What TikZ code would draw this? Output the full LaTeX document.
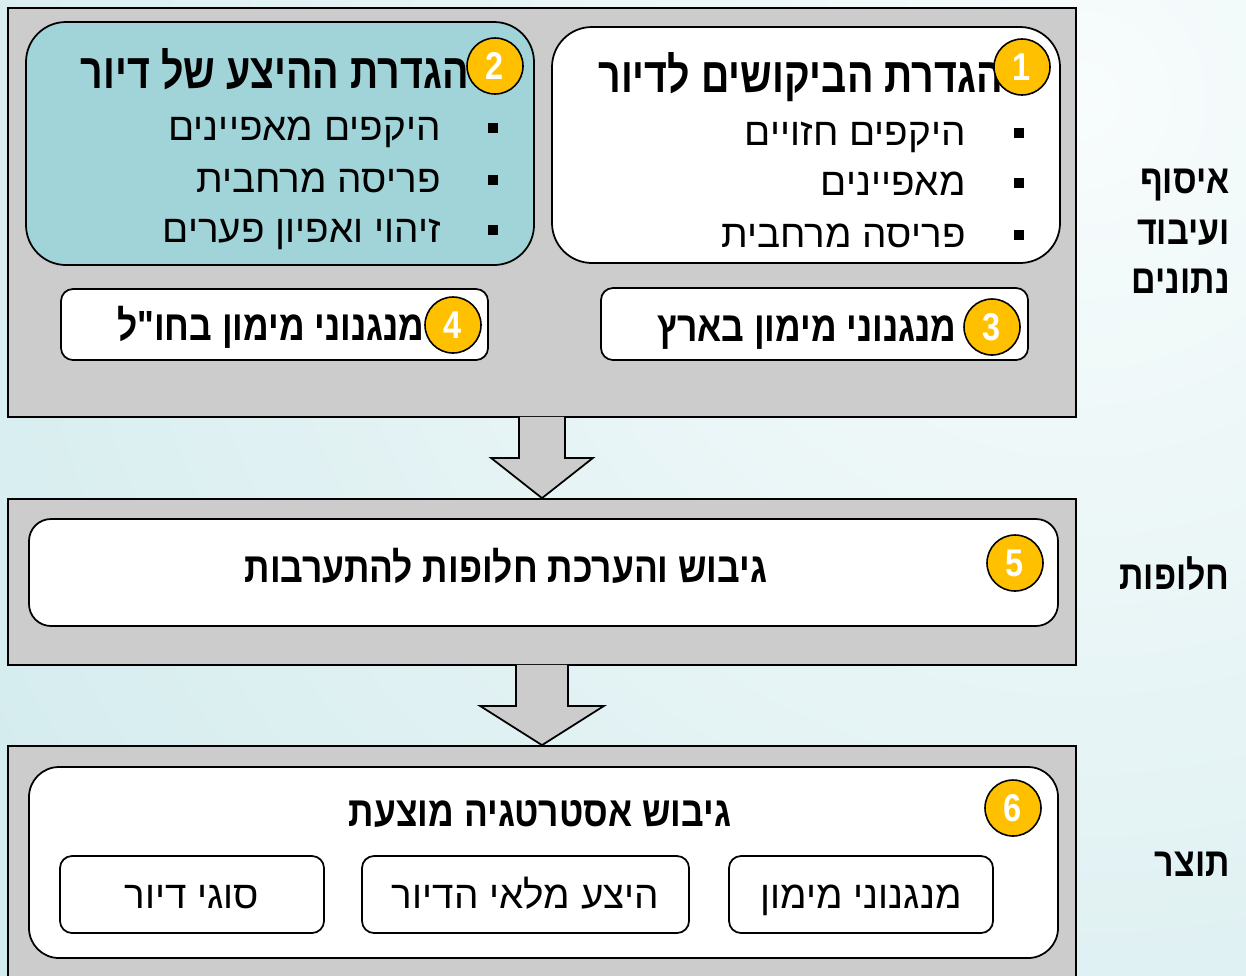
\documentclass[tikz,border=0pt]{standalone}
\usepackage{fontspec}
\setmainfont{Liberation Sans}[Script=Hebrew, Ligatures=TeXOff]
\newfontfamily\titlefont{Liberation Sans}[Script=Hebrew, Ligatures=TeXOff, FakeStretch=0.8]
\newfontfamily\narrowfont{Liberation Sans}[Script=Hebrew, Ligatures=TeXOff, FakeStretch=0.84]
\TeXXeTstate=1
\usetikzlibrary{calc,fit}

\definecolor{bgteal}{RGB}{184,223,227}
\definecolor{bglight}{RGB}{248,252,252}
\definecolor{panelgray}{RGB}{204,204,204}
\definecolor{boxteal}{RGB}{160,212,216}
\definecolor{markyellow}{RGB}{255,192,0}

\newcommand{\heb}[1]{\beginR #1\endR}

\begin{document}
\begin{tikzpicture}[x=0.2mm, y=-0.2mm,
    panel/.style={draw=black, line width=1pt, fill=panelgray, inner sep=0pt},
    card/.style={draw=black, line width=1pt, fill=white, inner sep=0pt, rounded corners=#1},
    card/.default=2.4mm,
    stepmark/.style={circle, draw=black, line width=0.9pt, fill=markyellow, text=white,
        inner sep=0pt, minimum size=11.2mm, font=\narrowfont\fontsize{22}{22}\selectfont\bfseries},
    headtext/.style={anchor=base east, inner sep=0pt, font=\titlefont\fontsize{28}{32}\selectfont\bfseries},
    boxtext/.style={anchor=base east, inner sep=0pt, font=\narrowfont\fontsize{24}{28}\selectfont\bfseries},
    itemtext/.style={anchor=base east, inner sep=0pt, font=\fontsize{22}{26}\selectfont},
    sidelabel/.style={anchor=base east, inner sep=0pt, font=\narrowfont\fontsize{23}{26}\selectfont\bfseries}]

    % Background
    \useasboundingbox (0,0) rectangle (1246,975);
    \clip (0,0) rectangle (1246,975);
    \shade[inner color=bglight, outer color=bgteal] (1080,100) circle (2300);

    % Draw the three gray panels
    \node[panel, fit={(8,8) (1076,417)}] (data) {};
    \node[panel, fit={(8,499) (1076,665)}] (alts) {};
    \node[panel, fit={(8,746) (1076,995)}] (prod) {};

    % Block arrows between the panels
    \filldraw[line width=1pt, fill=panelgray] ($(data.south)+(-23,-1)$) -- ($(data.south)+(-23,40)$)
        -- ($(data.south)+(-51,40)$) -- (alts.north) -- ($(data.south)+(51,40)$)
        -- ($(data.south)+(23,40)$) -- ($(data.south)+(23,-1)$);
    \filldraw[line width=1pt, fill=panelgray] ($(alts.south)+(-26,-1)$) -- ($(alts.south)+(-26,40)$)
        -- ($(alts.south)+(-62,40)$) -- (prod.north) -- ($(alts.south)+(62,40)$)
        -- ($(alts.south)+(26,40)$) -- ($(alts.south)+(26,-1)$);

    % Boxes inside the panels
    \node[card=8mm, fit={(552,27) (1060,263)}] (demand) {};
    \node[card=8mm, fill=boxteal, fit={(26,22) (534,265)}] (supply) {};
    \node[card, fit={(601,288) (1028,360)}] (local) {};
    \node[card, fit={(61,289) (488,360)}] (abroad) {};
    \node[card=4.4mm, fit={(29,519) (1058,626)}] (options) {};
    \node[card=6mm, fit={(29,767) (1058,958)}] (strategy) {};
    \foreach \n/\xa/\xb/\txt in {funding/729/993/מנגנוני מימון, stock/362/689/היצע מלאי הדיור, kinds/60/324/סוגי דיור} {
        \node[card, fit={(\xa,856) (\xb,933)}] (\n) {};
        \node[anchor=base, inner sep=0pt, font=\fontsize{22}{26}\selectfont] (\n text) at ($(\n.center)+(0,14)$) {\heb{\txt}};
    }

    % Titles
    \node[headtext] (demand title) at (1003,92) {\heb{הגדרת הביקושים לדיור}};
    \node[headtext] (supply title) at (469,88) {\heb{הגדרת ההיצע של דיור}};
    \node[boxtext] (local title) at (957,341) {\heb{מנגנוני מימון בארץ}};
    \node[boxtext] (abroad title) at (425,340) {\heb{מנגנוני מימון בחו"ל}};
    \node[boxtext, anchor=base] (options title) at (506,582) {\heb{גיבוש והערכת חלופות להתערבות}};
    \node[boxtext, anchor=base] (strategy title) at (540,826) {\heb{גיבוש אסטרטגיה מוצעת}};

    % Bullet lists
    \foreach \y/\txt [count=\i] in {145/היקפים חזויים, 195/מאפיינים, 247/פריסה מרחבית} {
        \node[itemtext] (demand item\i) at (966,\y) {\heb{\txt}};
        \fill ($(1019,\y)+(-5,-17)$) rectangle ++(10,10);
    }
    \foreach \y/\txt [count=\i] in {140/היקפים מאפיינים, 192/פריסה מרחבית, 242/זיהוי ואפיון פערים} {
        \node[itemtext] (supply item\i) at (441,\y) {\heb{\txt}};
        \fill ($(493,\y)+(-5,-17)$) rectangle ++(10,10);
    }

    % Numbered marks
    \foreach \n/\x/\y/\k in {mark1/1022/67/1, mark2/495/66/2, mark3/992/327/3, mark4/453/325/4, mark5/1015/563/5, mark6/1013/808/6} {
        \node[stepmark] (\n) at (\x,\y) {\k};
    }

    % Stage labels on the right
    \node[sidelabel] (stage1a) at (1230,193) {\heb{איסוף}};
    \node[sidelabel] (stage1b) at (1230,244) {\heb{ועיבוד}};
    \node[sidelabel] (stage1c) at (1230,293) {\heb{נתונים}};
    \node[sidelabel] (stage2) at (1230,589) {\heb{חלופות}};
    \node[sidelabel] (stage3) at (1230,876) {\heb{תוצר}};
\end{tikzpicture}
\end{document}
